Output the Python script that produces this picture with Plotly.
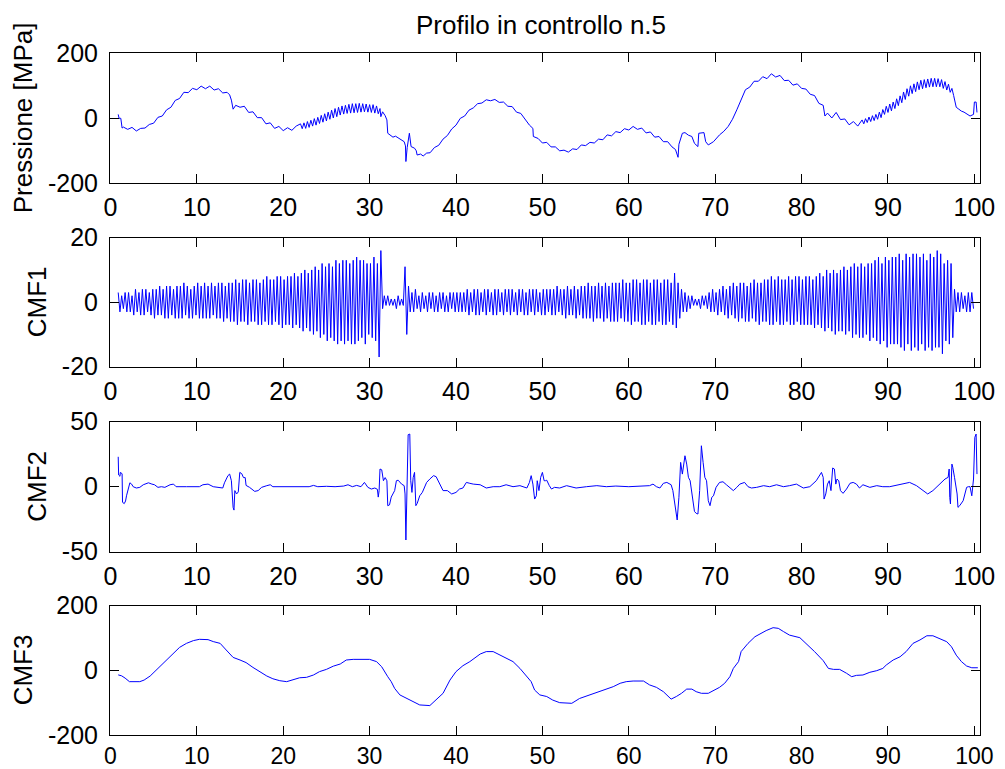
import plotly.graph_objects as go

# ---------------- data ----------------
titolo = "Profilo in controllo n.5"
etichette_y = ["Pressione [MPa]", "CMF1", "CMF2", "CMF3"]
x_tick_vals = [0, 10, 20, 30, 40, 50, 60, 70, 80, 90, 100]
y_tick_vals = [[-200, 0, 200], [-20, 0, 20], [-50, 0, 50], [-200, 0, 200]]

pressione = [
    (0.9, 12), (1.0, 0), (1.2, 0), (1.35, -30),
    (1.5, -27), (2.0, -34), (2.5, -28), (3.0, -39), (3.5, -31), (4.0, -30), (4.5, -19), (5.0, -15),
    (5.5, 3), (6.0, 7), (6.5, 26), (7.0, 34), (7.5, 55), (8.0, 61), (8.5, 80), (9.0, 79), (9.5, 92),
    (10.0, 88), (10.5, 99), (11.0, 91), (11.5, 99), (12.0, 87), (12.5, 91), (13.0, 78), (13.5, 80),
    (13.8, 72), (14.0, 56), (14.2, 28), (14.5, 40), (15.0, 34), (15.5, 37), (16.0, 18), (16.5, 20),
    (17.0, 2), (17.5, 2), (18.0, -17), (18.5, -14), (19.0, -31), (19.5, -25), (20.0, -38), (20.5, -29),
    (21.0, -37), (21.5, -24),
    (22.0, -17), (22.2, -32), (22.4, -14), (22.6, -31), (22.8, -10), (23.0, -28), (23.2, -6), (23.4, -24),
    (23.6, -1), (23.8, -21), (24.0, 3), (24.2, -16), (24.4, 9), (24.6, -12), (24.8, 14), (25.0, -8),
    (25.2, 19), (25.4, -3), (25.6, 25), (25.8, 1), (26.0, 30), (26.2, 5), (26.4, 34), (26.6, 10),
    (26.8, 38), (27.0, 13), (27.2, 40), (27.4, 15), (27.6, 43), (27.8, 16), (28.0, 45), (28.2, 17),
    (28.4, 45), (28.6, 18), (28.8, 46), (29.0, 19), (29.2, 45), (29.4, 20), (29.6, 44), (29.8, 19),
    (30.0, 42), (30.2, 18), (30.4, 42), (30.6, 16), (30.8, 38), (31.0, 14),
    (31.2, 30), (31.3, 5), (31.5, 20), (31.8, 8), (32.0, -5), (32.1, -46), (32.4, -52), (32.7, -58),
    (33.0, -55), (33.5, -63), (34.0, -72), (34.15, -85), (34.2, -133), (34.35, -90), (34.6, -46),
    (34.8, -87), (35.2, -92), (35.4, -100), (35.5, -113), (35.9, -110), (36.2, -116), (36.6, -107),
    (37.0, -106), (37.5, -90), (38.0, -83), (38.5, -64), (39.0, -53), (39.5, -33), (40.0, -21),
    (40.5, 0), (41.0, 7), (41.5, 25), (42.0, 32), (42.5, 45), (43.0, 47), (43.5, 57), (44.0, 54),
    (44.5, 58), (45.0, 49), (45.5, 50), (46.0, 37), (46.5, 36), (47.0, 19), (47.5, 15), (48.0, -3),
    (48.5, -21), (48.9, -31), (48.95, -56),
    (49.5, -62), (50.0, -76), (50.5, -74), (51.0, -88), (51.5, -88), (52.0, -100), (52.5, -98),
    (53.0, -104), (53.5, -94), (54.0, -96), (54.5, -82), (55.0, -84), (55.5, -74), (56.0, -76),
    (56.5, -64), (57.0, -66), (57.5, -51), (58.0, -54), (58.5, -41), (59.0, -44), (59.5, -32),
    (60.0, -36), (60.5, -25), (61.0, -34), (61.5, -30), (62.0, -45), (62.5, -42), (63.0, -58),
    (63.5, -56), (64.0, -72), (64.5, -72), (65.0, -88), (65.4, -96), (65.7, -120), (65.8, -80),
    (66.0, -60), (66.2, -46), (66.5, -44), (66.9, -52), (67.3, -56), (67.6, -77), (68.0, -87),
    (68.1, -46), (68.7, -44), (68.9, -72), (69.2, -82), (69.8, -72), (70.5, -51), (71.0, -40),
    (71.5, -25), (72.0, -3), (72.5, 26), (73.0, 60), (73.5, 88), (74.0, 96), (74.5, 114), (75.0, 114),
    (75.5, 128), (76.0, 122), (76.5, 137), (77.0, 127), (77.5, 132), (78.0, 116), (78.5, 117),
    (79.0, 102), (79.5, 106), (80.0, 92), (80.5, 90), (81.0, 74), (81.5, 70), (82.0, 46), (82.5, 40),
    (82.7, 7), (83.0, 16), (83.5, 1), (84.0, 18), (84.5, -4), (85.0, -2), (85.5, -20), (86.0, -10),
    (86.5, -24),
    (87.0, -5), (87.2, -17), (87.4, -1), (87.6, -13), (87.8, 4), (88.0, -10), (88.2, 8), (88.4, -7),
    (88.6, 12), (88.8, -3), (89.0, 19), (89.2, 2), (89.4, 27), (89.6, 12), (89.8, 37), (90.0, 18),
    (90.2, 44), (90.4, 23), (90.6, 50), (90.8, 30), (91.0, 60), (91.2, 39), (91.4, 69), (91.6, 48),
    (91.8, 81), (92.0, 58), (92.2, 91), (92.4, 68), (92.6, 100), (92.8, 76), (93.0, 106), (93.2, 82),
    (93.4, 112), (93.6, 88), (93.8, 117), (94.0, 91), (94.2, 119), (94.4, 94), (94.6, 121), (94.8, 96),
    (95.0, 123), (95.2, 97), (95.4, 123), (95.6, 97), (95.8, 122), (96.0, 97), (96.2, 119), (96.4, 92),
    (96.6, 113), (96.8, 87), (97.0, 105), (97.2, 80), (97.4, 92),
    (97.6, 70), (97.8, 45), (97.9, 34), (98.2, 28), (98.5, 22), (98.8, 19), (99.1, 14), (99.5, 7),
    (99.9, 12), (100.0, 50), (100.2, 50), (100.3, 18),
]

# CMF1: peak and trough of each oscillation, one per 0.4 units starting at x = 0.9
cmf1_x0 = 0.9
cmf1_passo = 0.2
cmf1_picchi = [
    3, 2, 3, 3, 2, 4, 3, 4, 4, 3, 4, 4, 5, 4, 5, 5, 4, 5, 5, 6, 5, 4, 5, 6, 5,
    6, 5, 6, 5, 6, 6, 5, 6, 6, 7, 6, 7, 7, 6, 7, 7, 6, 7, 8, 7, 7, 8, 8, 7, 8,
    8, 9, 8, 9, 10, 9, 10, 11, 10, 12, 11, 12, 11, 13, 12, 13, 13, 12, 13, 14, 13, 13, 12, 12, 14,
    12, 16, 2, 2, 1, 1, 2, 1, 11, 5, 3, 4, 2, 3, 2, 3, 3, 2, 3, 3, 2, 3, 3, 3, 3,
    3, 4, 3, 4, 4, 3, 4, 4, 3, 4, 4, 3, 4, 4, 4, 3, 4, 4, 3, 4, 4, 4, 3, 4, 4,
    4, 4, 5, 4, 4, 5, 4, 5, 4, 5, 5, 6, 5, 5, 6, 5, 6, 5, 6, 6, 6, 7, 6, 6, 7,
    7, 6, 7, 7, 6, 7, 7, 6, 7, 7, 6, 9, 6, 4, 3, 2, 2, 1, 1, 2, 2, 3, 4, 3, 4,
    5, 4, 5, 6, 5, 6, 6, 5, 6, 7, 6, 6, 7, 7, 8, 7, 8, 7, 7, 8, 7, 8, 8, 7, 8,
    8, 7, 8, 9, 8, 10, 9, 10, 9, 10, 11, 10, 11, 12, 11, 12, 11, 12, 12, 13, 14, 12, 14, 13, 14,
    14, 15, 13, 15, 14, 15, 15, 14, 15, 13, 15, 14, 16, 15, 12, 13, 12, 4, 3, 3, 2, 3, 3,
]
cmf1_valli = [
    -3, -2, -3, -3, -4, -3, -4, -4, -3, -4, -5, -4, -4, -5, -5, -4, -5, -5, -5, -4, -5, -5, -4, -5, -5,
    -5, -5, -4, -5, -5, -6, -5, -6, -6, -7, -6, -6, -7, -6, -6, -7, -7, -6, -7, -7, -6, -7, -8, -7, -7,
    -8, -7, -8, -9, -8, -9, -10, -9, -11, -10, -12, -11, -12, -13, -12, -13, -12, -13, -13, -12, -11, -13, -10, -11, -12,
    -17, -2, -1, -1, -1, -2, -1, -1, -10, -3, -3, -2, -3, -2, -3, -2, -3, -3, -2, -3, -3, -2, -3, -3, -3,
    -3, -4, -3, -4, -4, -3, -4, -3, -4, -4, -3, -4, -3, -4, -3, -4, -3, -4, -4, -3, -4, -3, -4, -4, -3,
    -4, -4, -3, -4, -5, -4, -4, -5, -4, -5, -5, -5, -6, -5, -5, -6, -5, -6, -6, -6, -5, -6, -6, -7, -6,
    -6, -7, -7, -6, -7, -7, -6, -7, -7, -6, -7, -8, -5, -3, -3, -2, -1, -1, -2, -1, -2, -3, -3, -4, -3,
    -4, -5, -4, -5, -6, -5, -6, -6, -5, -6, -7, -6, -6, -7, -7, -6, -7, -7, -6, -7, -7, -6, -7, -7, -7,
    -7, -8, -7, -8, -9, -8, -9, -10, -9, -9, -10, -9, -11, -10, -11, -11, -10, -12, -11, -12, -13, -12, -14, -13, -13,
    -13, -14, -15, -13, -15, -14, -15, -13, -15, -14, -15, -14, -14, -16, -12, -13, -11, -3, -3, -2, -3, -3, -2,
]

cmf2 = [
    (0.9, 23), (0.95, 9), (1.1, 8), (1.15, 11), (1.35, 10), (1.4, -12), (1.6, -13), (1.75, -11),
    (1.86, -7), (1.95, -5), (2.05, -3), (2.25, 3), (2.45, 2), (2.63, 0), (3.0, -1), (3.4, -0.5),
    (3.8, 1.5), (4.4, 3), (4.8, 2), (5.1, 1.5), (5.5, -0.5), (5.9, 0), (6.3, -0.5), (6.9, 1.5),
    (7.3, 2), (7.6, 0), (8.8, 0), (10.3, 0), (10.7, 1.5), (11.3, 2), (11.9, 0), (13.0, -1),
    (13.2, 3), (13.6, 8.5), (13.8, 9.7), (14.0, 4.6), (14.2, -16), (14.3, -18), (14.4, -3),
    (14.6, -5.6), (14.8, -4), (14.97, 11), (15.2, 10), (15.4, 7), (15.6, 7), (15.7, 1), (16.1, -0.5),
    (16.7, -3.6), (17.1, -3), (17.5, -0.5), (18.1, 0.8), (18.5, 1.5), (18.8, 0), (20.0, 0),
    (21.0, 0.5), (22.0, 0), (23.0, 0), (23.5, 1), (24.0, 0), (25.0, 0.3), (26.0, 0), (27.0, 0.5),
    (27.5, 1.5), (28.0, 0), (28.5, 1), (29.0, 0), (29.4, 3.3), (29.8, -0.5), (30.2, -1.8),
    (30.6, -1), (30.9, -2), (31.0, -8), (31.1, -3), (31.2, 13.6), (31.4, 13), (31.6, 4.6),
    (31.8, 7), (32.0, 4.6), (32.1, -14.6), (32.3, -14), (32.5, -8), (32.9, -3), (33.1, 4.6),
    (33.3, 5), (33.7, 2), (34.0, 0.8), (34.1, -5.6), (34.2, -41), (34.35, -0.5), (34.46, 40),
    (34.65, 40.5), (34.76, 4.6), (34.9, -4.4), (35.04, 7), (35.2, 11), (35.35, -14.6), (35.5, -13),
    (35.8, -7), (36.1, -4.4), (36.4, 0.8), (36.6, 3.3), (36.97, 5.9), (37.4, 8.5), (37.7, 7.7),
    (38.1, 2), (38.5, -3), (39.0, -3), (39.5, -5.6), (40.0, -4.4), (40.4, -1.8), (40.8, -1),
    (41.2, 3.3), (41.6, 2.6), (42.0, 2), (42.8, 1.5), (43.5, -1), (44.3, 0), (45.07, 0), (45.8, 1.5),
    (46.6, 0), (47.4, 0.8), (48.2, -1), (48.5, 3.3), (48.7, 8.5), (48.9, 2), (49.1, -9.5), (49.3, -7),
    (49.4, 4.6), (49.6, -3), (49.8, 7.2), (50.0, 11), (50.2, 4.6), (50.35, 4.6), (50.5, 5),
    (50.8, 0.8), (51.05, -1.8), (51.4, -0.5), (52.0, -1), (52.8, 0.8), (53.9, -1), (55.1, 0),
    (56.3, 0.8), (57.4, 0), (58.5, 0.5), (60.0, 0), (61.0, 0.5), (62.4, 0.8), (62.8, 2), (63.2, 0),
    (63.6, -1), (64.0, 2.6), (64.4, 3.3), (64.9, 1.5), (65.1, -3), (65.4, -16), (65.6, -25.6),
    (65.8, -8.2), (65.9, 4.6), (66.0, 18.7), (66.2, 9.7), (66.3, 14.9), (66.5, 23.8), (66.7, 17.4),
    (66.9, 7.2), (67.1, 4.6), (67.3, -5.6), (67.5, -13.3), (67.6, -19), (67.8, -20.5), (68.0, -21),
    (68.2, -3), (68.4, 31.5), (68.6, 18.7), (68.8, 7.2), (69.0, 4.6), (69.2, -10.8), (69.4, -14.6),
    (69.6, -8.2), (69.8, -7), (70.1, -0.5), (70.5, 3.3), (70.9, 3.8), (71.3, 1.5), (71.7, -1),
    (72.1, -3), (72.5, -0.5), (72.85, 2), (73.4, 3.3), (73.8, 0), (74.2, -1), (74.8, -0.5),
    (75.6, 0.8), (76.3, 0), (77.1, 1.5), (77.9, 0), (78.6, 0.8), (79.4, 2), (80.2, -1), (80.95, 0),
    (81.7, 4.6), (82.3, 11), (82.5, 7.2), (82.6, -9.5), (82.8, -5.6), (83.0, 2), (83.2, 4.6),
    (83.4, -3), (83.6, 14.4), (83.8, 13.6), (83.96, 2), (84.1, 5.9), (84.3, 4.6), (84.5, -3),
    (84.8, -5.1), (85.2, -1.8), (85.6, 2.6), (85.97, 3.3), (86.35, 2), (86.7, -1), (87.1, 1.5),
    (87.9, -0.5), (88.7, 0.8), (89.4, 0), (90.2, 0), (91.4, 1.5), (92.5, 3.3), (93.3, 0.8),
    (94.1, -3), (94.6, -5.6), (95.2, -3), (96.0, 2), (96.6, 5.9), (96.96, 7.2), (97.08, 13.6),
    (97.15, -8.2), (97.23, -13.3), (97.4, 17.4), (97.5, 14.9), (97.7, 7.2), (98.0, -5.6),
    (98.1, -15.9), (98.3, -14.6), (98.7, -10.8), (99.1, -0.5), (99.3, 0), (99.5, 0), (99.7, -7),
    (99.8, -0.5), (99.9, 5.9), (100.05, 38), (100.2, 40.5), (100.3, 9.7),
]

cmf3 = [
    (0.9, -14), (1.3, -17), (1.7, -24), (2.2, -35), (3.4, -35), (3.9, -30), (4.6, -17.5), (5.3, 1),
    (6.1, 21.6), (6.9, 44), (7.5, 58), (8.0, 71), (8.8, 83.5), (9.6, 92), (10.3, 96), (11.3, 95),
    (11.9, 89), (12.7, 83.5), (13.4, 63), (14.2, 40), (15.0, 32), (15.7, 24), (16.5, 9), (17.3, -4),
    (18.1, -17.5), (18.8, -26), (19.6, -32), (20.4, -35), (21.1, -30), (21.9, -23), (22.7, -21.6),
    (23.5, -14.4), (24.2, -4), (25.0, 3), (25.8, 13), (26.6, 19.6), (27.3, 32), (28.1, 34),
    (30.0, 34), (30.8, 27), (31.4, 11), (31.8, -9), (32.1, -19.6), (32.5, -35), (32.9, -56),
    (33.5, -76), (34.3, -87), (35.0, -97), (35.8, -107), (36.97, -109), (37.7, -92), (38.5, -71),
    (39.3, -30), (40.0, -4), (40.8, 14.4), (41.6, 27), (42.8, 50.5), (43.5, 58), (44.3, 58),
    (45.1, 47), (45.8, 37), (46.6, 27), (47.4, 6), (48.2, -17.5), (48.7, -35), (49.1, -61),
    (49.7, -76), (50.5, -81), (51.2, -92), (52.0, -100), (52.8, -102), (53.4, -102), (54.3, -87),
    (55.1, -79), (55.9, -73), (56.6, -66), (57.4, -56), (58.2, -50.5), (59.0, -40), (59.7, -35),
    (60.5, -33), (61.7, -33), (62.4, -45), (63.2, -52.6), (64.0, -66), (64.55, -81), (64.9, -89),
    (65.5, -81), (66.1, -71), (66.7, -58), (67.3, -58), (67.8, -66), (68.4, -71), (69.2, -71),
    (69.8, -63), (70.5, -52.6), (71.1, -40), (71.7, -19.6), (72.1, 6), (72.7, 27), (73.0, 58),
    (73.8, 83.5), (74.6, 104), (75.2, 114), (75.9, 123), (76.7, 132), (77.3, 130), (77.9, 120),
    (78.6, 109), (79.8, 101), (80.6, 81), (81.5, 58), (82.5, 30), (83.1, 6), (83.7, 3), (84.4, 3),
    (85.2, -9), (85.8, -19.6), (86.35, -15.5), (87.1, -14.4), (87.9, -6), (88.7, -1), (89.4, 6),
    (89.8, 16.5), (90.6, 32), (91.4, 42), (92.1, 58), (92.9, 83.5), (93.7, 94), (94.5, 107),
    (95.2, 107), (96.0, 99), (96.8, 88.6), (97.35, 73), (97.9, 47), (98.5, 27), (99.1, 13.4),
    (99.7, 8), (100.4, 8),
]

# ---------------- build traces ----------------
cmf1_y = [v for coppia in zip(cmf1_picchi, cmf1_valli) for v in coppia]
cmf1_x = [cmf1_x0 + cmf1_passo * i for i in range(len(cmf1_y))]

serie = [
    ([p[0] for p in pressione], [p[1] for p in pressione]),
    (cmf1_x, cmf1_y),
    ([p[0] for p in cmf2], [p[1] for p in cmf2]),
    ([p[0] for p in cmf3], [p[1] for p in cmf3]),
]

W, H = 1005, 769
FONT = "Liberation Sans, Arial, Helvetica, sans-serif"
box_x = (110, 980)
box_y = [(53.3, 183.3), (237.7, 366.7), (421.7, 551.7), (605.7, 735.0)]
label_x = [23, 37, 37, 23]

fig = go.Figure()
for i, (xs, ys) in enumerate(serie):
    n = "" if i == 0 else str(i + 1)
    fig.add_trace(go.Scatter(x=xs, y=ys, mode="lines",
                             line=dict(color="#0000ff", width=1),
                             xaxis="x" + n, yaxis="y" + n, showlegend=False,
                             hoverinfo="skip"))
    top, bot = box_y[i]
    yv = y_tick_vals[i]
    ultimo = (i == 3)
    fig.layout["xaxis" + n] = dict(
        domain=[box_x[0] / W, box_x[1] / W], range=[-0.05, 100.65],
        anchor="y" + n, tickvals=x_tick_vals, ticktext=[str(v) for v in x_tick_vals],
        ticks="inside", ticklen=9, tickwidth=1, tickcolor="black",
        showline=True, linecolor="black", linewidth=1, mirror="ticks",
        showgrid=False, zeroline=False, automargin=False,
        tickfont=dict(family=FONT, size=23 if ultimo else 25, color="black"),
        ticklabelstandoff=0 if ultimo else 2,
    )
    fig.layout["yaxis" + n] = dict(
        domain=[1 - bot / H, 1 - top / H], range=[yv[0], yv[2]],
        anchor="x" + n, tickvals=yv, ticktext=[str(v) for v in yv],
        ticks="inside", ticklen=9, tickwidth=1, tickcolor="black",
        showline=True, linecolor="black", linewidth=1, mirror="ticks",
        showgrid=False, zeroline=False, automargin=False,
        tickfont=dict(family=FONT, size=25, color="black"), ticklabelstandoff=6,
    )
    fig.add_annotation(text=etichette_y[i], xref="paper", yref="paper",
                       x=label_x[i] / W, y=1 - (top + bot) / 2 / H,
                       xanchor="center", yanchor="middle", textangle=-90,
                       showarrow=False, font=dict(family=FONT, size=26, color="black"))

fig.add_annotation(text=titolo, xref="paper", yref="paper",
                   x=541 / W, y=1 - 25 / H,
                   xanchor="center", yanchor="middle", showarrow=False,
                   font=dict(family=FONT, size=26, color="black"))

fig.update_layout(width=W, height=H,
                  margin=dict(l=0, r=0, t=0, b=0, autoexpand=False),
                  paper_bgcolor="white", plot_bgcolor="white")

fig.write_html("out.html")
